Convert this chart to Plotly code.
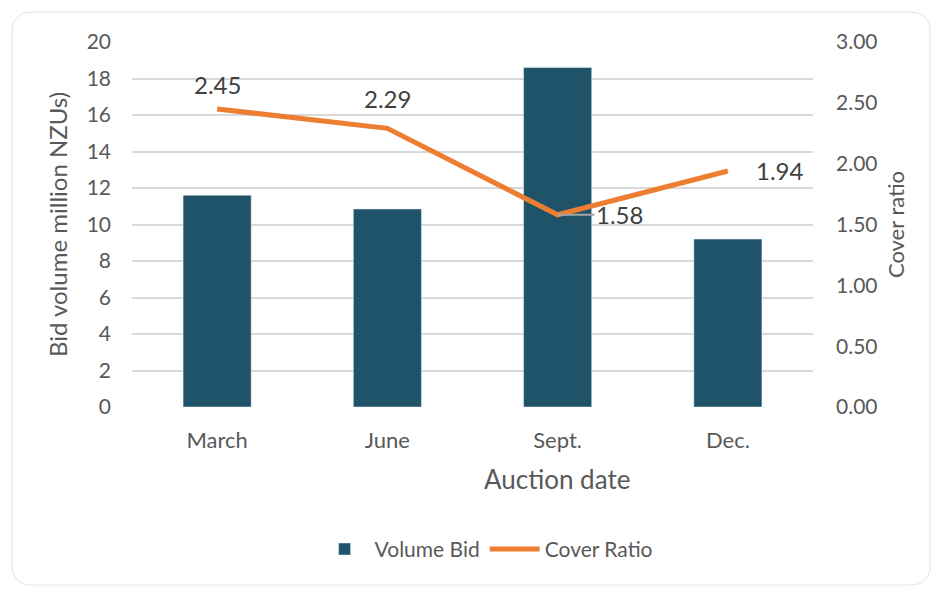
import plotly.graph_objects as go

# auction data
auctions = ["March", "June", "Sept.", "Dec."]
volume_bid = [11.6, 10.85, 18.6, 9.2]
cover_ratio = [2.45, 2.29, 1.58, 1.94]

bar_color = "#1F5369"
line_color = "#ED7D31"
font_family = "Lato, 'Open Sans', sans-serif"

fig = go.Figure()
fig.add_trace(go.Bar(x=auctions, y=volume_bid, name="Volume Bid",
                     marker=dict(color=bar_color), width=0.4))
fig.add_trace(go.Scatter(x=auctions, y=cover_ratio, name="Cover Ratio", yaxis="y2",
                         mode="lines", line=dict(color=line_color, width=5)))

# data labels for the cover ratio
shifts = [(0, 24, False), (0, 30, False), (62, 0, True), (52, 0, False)]
for cat, val, (dx, dy, arrow) in zip(auctions, cover_ratio, shifts):
    fig.add_annotation(x=cat, y=val, xref="x", yref="y2", text=f"{val:.2f}",
                       showarrow=arrow, arrowhead=0, arrowcolor="#A6A6A6", arrowwidth=2,
                       ax=dx, ay=0, standoff=0,
                       xshift=0 if arrow else dx, yshift=dy,
                       font=dict(size=24, color="#404040", family=font_family))

# x axis title sits right of centre in the original
fig.add_annotation(x=0.624, y=-0.197, xref="paper", yref="paper", text="Auction date",
                   showarrow=False, xanchor="center", yanchor="middle",
                   font=dict(size=26, color="#595959", family=font_family))

# rounded chart border
fig.add_shape(type="path", xref="paper", yref="paper",
              path="M -0.176,1.027 Q -0.176,1.082 -0.146,1.082 L 1.142,1.082 Q 1.172,1.082 1.172,1.027 "
                   "L 1.172,-0.433 Q 1.172,-0.488 1.142,-0.488 L -0.146,-0.488 Q -0.176,-0.488 -0.176,-0.433 Z",
              line=dict(color="#E3E3E3", width=1))

fig.update_layout(
    width=942, height=590,
    margin=dict(l=132, r=129, t=42, b=183),
    paper_bgcolor="white", plot_bgcolor="white",
    font=dict(family=font_family, color="#595959", size=21),
    bargap=0.6,
    xaxis=dict(showgrid=False, ticks="", showline=False, ticklabelstandoff=18,
               tickfont=dict(size=22)),
    yaxis=dict(range=[0, 20], dtick=2, showgrid=True, gridcolor="#D9D9D9", gridwidth=2,
               zeroline=False, ticks="", showline=False, ticklabelstandoff=20,
               title=dict(text="Bid volume million NZUs)", font=dict(size=24), standoff=12),
               tickfont=dict(size=21)),
    yaxis2=dict(range=[0, 3], dtick=0.5, tickformat=".2f", overlaying="y", side="right",
                showgrid=False, zeroline=False, ticks="", showline=False, ticklabelstandoff=22,
                title=dict(text="Cover ratio", font=dict(size=22), standoff=12),
                tickfont=dict(size=21)),
    legend=dict(orientation="h", x=0.52, xanchor="center", y=-0.39, yanchor="middle",
                font=dict(size=21), itemwidth=50),
    showlegend=True,
)

fig.write_html("out.html", config={"displayModeBar": False},
               post_script="document.body.style.margin='0px';")
